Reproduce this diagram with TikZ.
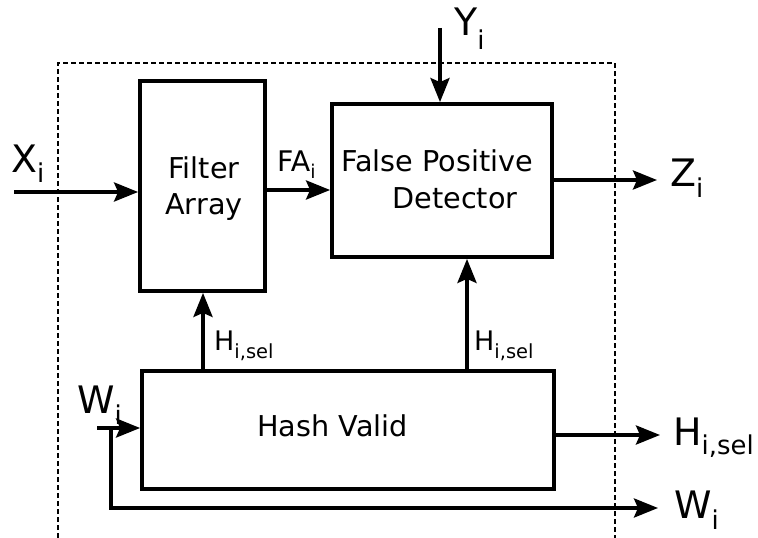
\documentclass[tikz,border=0pt]{standalone}
\usepackage{fontspec}
\setmainfont{DejaVu Sans}
\usetikzlibrary{arrows.meta}
\newcommand\lbl[5]{{\fontsize{#1}{#1}\selectfont #3\raisebox{-#5}{\fontsize{#2}{#2}\selectfont #4}}}
\tikzset{
  blk/.style={draw, line width=3.8bp, inner sep=0pt},
  txt/.style={inner sep=0pt, anchor=base, font=\fontsize{28.8}{34}\selectfont},
  lab/.style={inner sep=0pt, anchor=base west},
  sig/.style={line width=3.8bp, -{Stealth[length=24bp,width=19bp,inset=4bp]}},
  frame/.style={line width=1.4bp, dash pattern=on 5bp off 3bp}
}
\begin{document}
\begin{tikzpicture}[x=1bp,y=-1bp]
\useasboundingbox (0,0) rectangle (758,538);
% enclosing dashed frame (open at the bottom)
\coordinate (fbl) at (58,538);
\coordinate (ftr) at (615,63);
\coordinate (fbr) at (615,538);
\draw[frame] (fbl) |- (ftr) -- (fbr);
% blocks
\node[blk, minimum width=125bp, minimum height=210bp] (filter) at (202.5,186) {};
\node[blk, minimum width=220bp, minimum height=153bp] (fpd) at (442,180.5) {};
\node[blk, minimum width=412bp, minimum height=118bp] (hash) at (348,430) {};
% block texts
\node[txt] (t1) at (204,179) {Filter};
\node[txt] (t2) at (204,215) {Array};
\node[txt] (t3) at (437,172) {False Positive};
\node[txt] (t4) at (455,209) {Detector};
\node[txt] (t5) at (332.5,436) {Hash Valid};
% coordinates for connector ends
\coordinate (xin) at (14,192);
\coordinate (fa) at (265,190);
\coordinate (yin) at (440,28);
\coordinate (zout) at (657,180);
\coordinate (hl) at (203,371);
\coordinate (hr) at (467,371);
\coordinate (hout) at (660,435);
\coordinate (win) at (97,428);
\coordinate (wj) at (111,428);
\coordinate (wout) at (658,508);
% connectors
\draw[sig] (xin) -- (xin -| filter.west);
\draw[sig] (fa) -- (fa -| fpd.west);
\draw[sig] (yin) -- (yin |- fpd.north);
\draw[sig] (zout -| fpd.east) -- (zout);
\draw[sig] (hl |- hash.north) -- (hl |- filter.south);
\draw[sig] (hr |- hash.north) -- (hr |- fpd.south);
\draw[sig] (hout -| hash.east) -- (hout);
\draw[sig] (win) -- (win -| hash.west);
\draw[sig] (wj) |- (wout);
% labels
\node[lab] (lx) at (11,173) {\lbl{38}{26}{X}{i}{10bp}};
\node[lab] (lfa) at (277,172) {\lbl{28.5}{19}{FA}{i}{7bp}};
\node[lab] (ly) at (454,36) {\lbl{38}{26}{Y}{i}{14bp}};
\node[lab] (lz) at (670,187) {\lbl{38}{26}{Z}{i}{11bp}};
\node[lab] (lh1) at (214,350) {\lbl{27}{19.5}{H}{i,sel}{8bp}};
\node[lab] (lh2) at (474,350) {\lbl{27}{19.5}{H}{i,sel}{8bp}};
\node[lab] (lh3) at (673,445) {\lbl{38}{26}{H}{i,sel}{9bp}};
\node[lab] (lw1) at (77,413) {\lbl{38}{26}{W}{i}{11bp}};
\node[lab] (lw2) at (674,518) {\lbl{38}{26}{W}{i}{11bp}};
\end{tikzpicture}
\end{document}
